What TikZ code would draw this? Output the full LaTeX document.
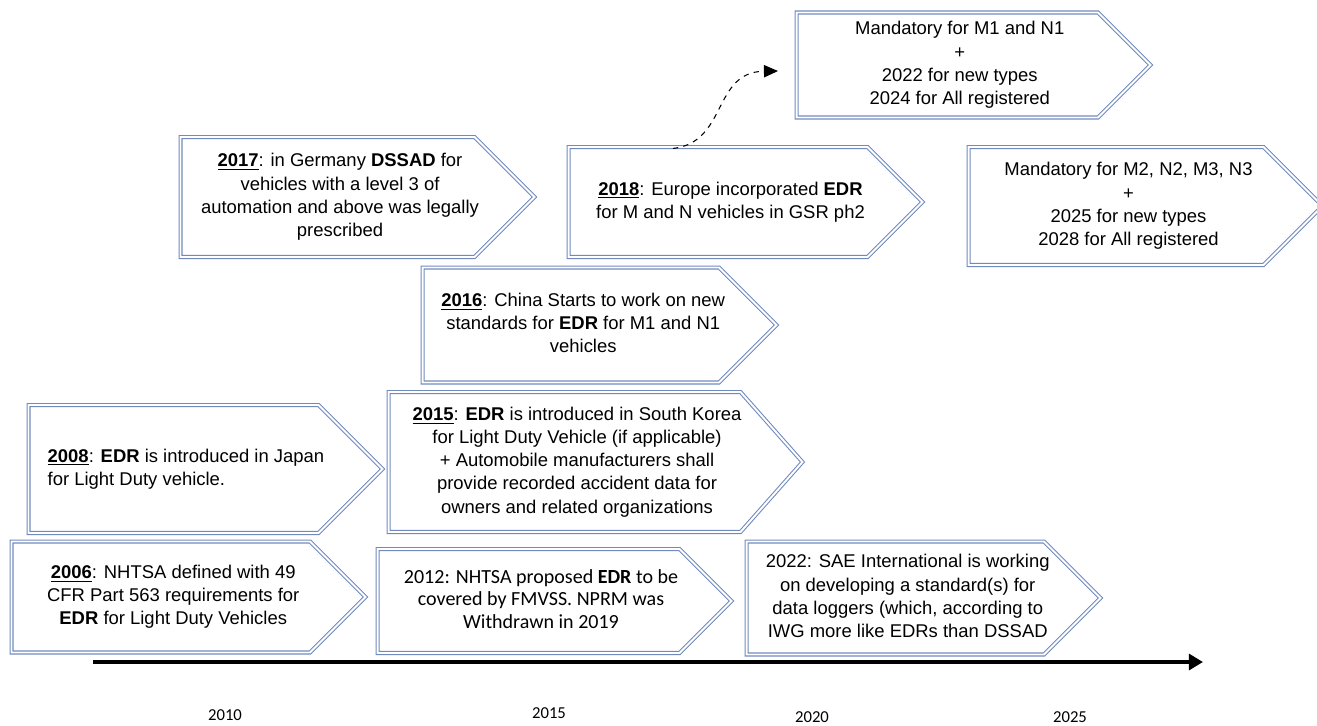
\documentclass[tikz,border=0pt]{standalone}
\usepackage{fontspec}
\setmainfont{Liberation Sans}
\newfontfamily\calfont{Carlito}
\usepackage{tikz}
\usetikzlibrary{arrows.meta, calc, shapes.symbols}
\definecolor{boxblue}{RGB}{112,138,190}
\newcommand\evtxt[2][c]{\begin{tabular}{@{\hspace{0.25cm}}#1@{\hspace{-0.25cm}}}#2\end{tabular}}

\begin{document}
\begin{tikzpicture}[x=0.02cm,y=-0.02cm,
  evt/.style={signal,signal to=east,signal pointer angle=90,draw=boxblue,double=white,double distance=1.1pt,line width=0.6pt,
    minimum width=7.08cm,anchor=west,inner sep=2pt,font=\fontsize{10.5}{13.2}\selectfont},
  yr/.style={font=\calfont\fontsize{9.5}{11}\selectfont}]
  \useasboundingbox (0,0) rectangle (1317,725);
  \node[evt,minimum height=2.1cm] (m1) at (796,65) {\evtxt{Mandatory for M1 and N1\\+\\2022 for new types\\2024 for All registered}};
  \node[evt,minimum height=2.4cm] (e2017) at (180,197) {\evtxt{\underline{\textbf{2017}}: in Germany \textbf{DSSAD} for\\vehicles with a level 3 of\\automation and above was legally\\prescribed}};
  \node[evt,minimum height=2.2cm] (e2018) at (568,202) {\evtxt{\underline{\textbf{2018}}: Europe incorporated \textbf{EDR}\\for M and N vehicles in GSR ph2}};
  \node[evt,minimum height=2.36cm] (m2) at (968,206) {\evtxt{Mandatory for M2, N2, M3, N3\\+\\2025 for new types\\2028 for All registered}};
  \node[evt,minimum height=2.3cm] (e2016) at (422,325) {\evtxt{\underline{\textbf{2016}}: China Starts to work on new\\standards for \textbf{EDR} for M1 and N1\\vehicles}};
  \node[evt,minimum height=2.56cm] (e2008) at (28,469) {\evtxt[l]{\underline{\textbf{2008}}: \textbf{EDR} is introduced in Japan\\for Light Duty vehicle.}};
  \node[evt,minimum height=2.8cm,minimum width=8.28cm,signal pointer angle=97] (e2015) at (388,462) {\evtxt{\underline{\textbf{2015}}: \textbf{EDR} is introduced in South Korea\\for Light Duty Vehicle (if applicable)\\+ Automobile manufacturers shall\\provide recorded accident data for\\owners and related organizations}};
  \node[evt,minimum height=2.22cm] (e2006) at (11,597) {\evtxt{\underline{\textbf{2006}}: NHTSA defined with 49\\CFR Part 563 requirements for\\\textbf{EDR} for Light Duty Vehicles}};
  \node[evt,minimum height=2.08cm,font=\calfont\fontsize{11.4}{12.8}\selectfont] (e2012) at (377,601) {\evtxt{2012: NHTSA proposed \textbf{EDR} to be\\covered by FMVSS. NPRM was\\Withdrawn in 2019}};
  \node[evt,minimum height=2.26cm] (e2022) at (746,598) {\evtxt{2022: SAE International is working\\on developing a standard(s) for\\data loggers (which, according to\\IWG more like EDRs than DSSAD}};
  % 点線の矢印
  \coordinate (tail) at ($(e2018.west |- e2018.north)+(105,2)$);
  \coordinate (head) at (778,71);
  \draw[dashed,semithick,-{Triangle[length=8pt,width=7pt]}] (tail) .. controls (728,142) and (712,72) .. (head);
  % 時間軸
  \coordinate (t0) at (93,662);
  \coordinate (t1) at (1203,662);
  \draw[line width=2.2pt,-{Triangle[length=8pt,width=9pt]}] (t0)--(t1);
  \node[yr] (y2010) at (225,715) {2010};
  \node[yr] (y2015) at (549,713) {2015};
  \node[yr] (y2020) at (812,717) {2020};
  \node[yr] (y2025) at (1070,717) {2025};
\end{tikzpicture}
\end{document}
